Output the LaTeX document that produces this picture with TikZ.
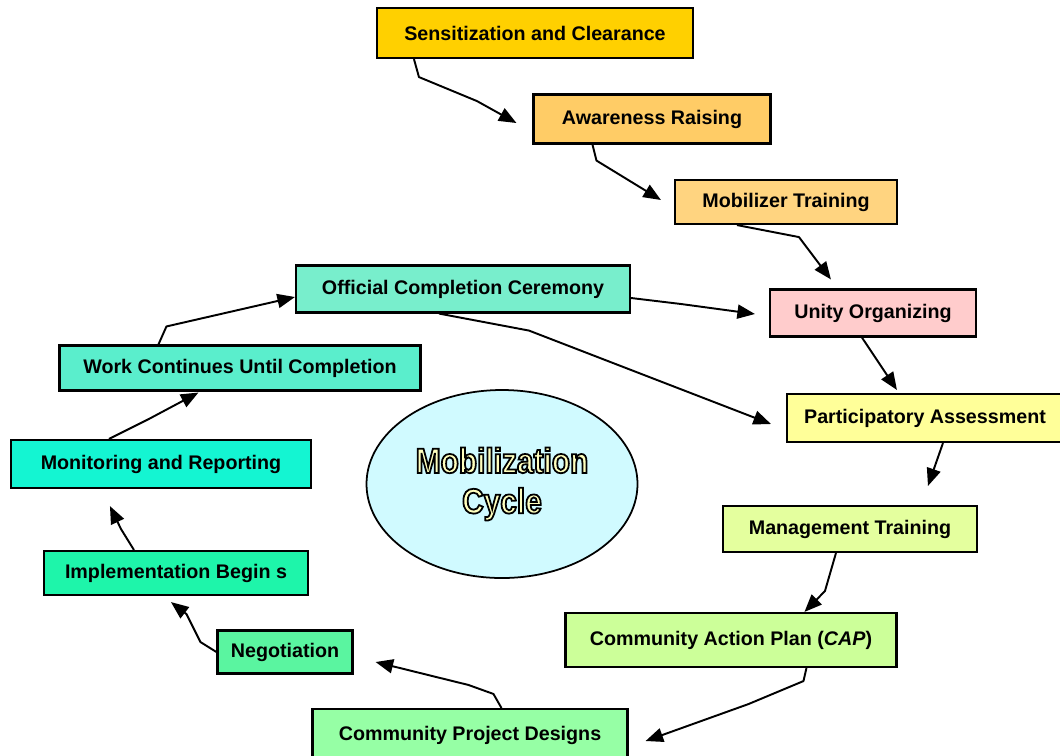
\documentclass[tikz,border=0pt]{standalone}
\usepackage{fontspec}
\setmainfont{Liberation Sans}
\newfontfamily\cyclefont[FakeStretch=0.85,FakeBold=5]{Liberation Sans Bold}
\usetikzlibrary{arrows.meta,calc,shapes.geometric}

\definecolor{sensfill}{RGB}{255,208,0}
\definecolor{awarefill}{RGB}{255,204,102}
\definecolor{mobilfill}{RGB}{255,212,128}
\definecolor{unityfill}{RGB}{255,204,204}
\definecolor{particfill}{RGB}{255,255,153}
\definecolor{managefill}{RGB}{228,255,158}
\definecolor{capfill}{RGB}{204,255,153}
\definecolor{designfill}{RGB}{150,255,165}
\definecolor{negotfill}{RGB}{90,245,160}
\definecolor{implemfill}{RGB}{30,245,170}
\definecolor{monitfill}{RGB}{20,245,210}
\definecolor{workfill}{RGB}{90,238,204}
\definecolor{officfill}{RGB}{120,238,204}
\definecolor{cyclefill}{RGB}{208,250,255}
\definecolor{cycletext}{RGB}{255,255,190}

% outlined title text: yellow fill, black stroke
\newcommand{\outlined}[1]{\textcolor{cycletext}{\special{pdf:code 0 G}#1}}

\tikzset{
	stage/.style={rectangle, draw, line width=1.2pt, inner sep=0pt, font=\bfseries\fontsize{11.2}{13}\selectfont},
	flow/.style={-{Triangle[length=10pt,width=8pt]}, line width=1.1pt, line join=bevel}
}

\begin{document}
\begin{tikzpicture}[x=0.02cm,y=-0.02cm]
	\useasboundingbox (0,0) rectangle (1060,755);

	\node (sens)		at (535,33) [stage, fill=sensfill, minimum width=316*0.02cm, minimum height=50*0.02cm] {Sensitization and Clearance};
	\node (aware)		at (652,119) [stage, fill=awarefill, minimum width=237*0.02cm, minimum height=49*0.02cm] {Awareness Raising};
	\node (mobil)		at (786,202) [stage, fill=mobilfill, minimum width=222*0.02cm, minimum height=44*0.02cm] {Mobilizer Training};
	\node (unity)		at (873,313) [stage, fill=unityfill, minimum width=206*0.02cm, minimum height=47*0.02cm] {Unity Organizing};
	\node (partic)		at (925,418) [stage, fill=particfill, minimum width=276*0.02cm, minimum height=48*0.02cm] {Participatory Assessment};
	\node (manage)		at (850,529) [stage, fill=managefill, minimum width=254*0.02cm, minimum height=46*0.02cm] {Management Training};
	\node (cap)			at (731,640) [stage, fill=capfill, minimum width=331*0.02cm, minimum height=54*0.02cm] {Community Action Plan (\textit{CAP})};
	\node (design)		at (470,735) [stage, fill=designfill, minimum width=315*0.02cm, minimum height=52*0.02cm] {Community Project Designs};

	\node (negot)		at (285,652) [stage, fill=negotfill, minimum width=135*0.02cm, minimum height=43*0.02cm] {Negotiation};
	\node (implem)		at (176,573) [stage, fill=implemfill, minimum width=264*0.02cm, minimum height=44*0.02cm] {Implementation Begin s};
	\node (monit)		at (161,464) [stage, fill=monitfill, minimum width=300*0.02cm, minimum height=48*0.02cm] {Monitoring and Reporting};
	\node (work)		at (240,368) [stage, fill=workfill, minimum width=361*0.02cm, minimum height=45*0.02cm] {Work Continues Until Completion};
	\node (offic)		at (463,289) [stage, fill=officfill, minimum width=334*0.02cm, minimum height=47*0.02cm] {Official Completion Ceremony};

	\node (cycle)		at (502,484) [ellipse, draw, line width=1pt, fill=cyclefill, minimum width=271*0.02cm, minimum height=188*0.02cm, align=center,
		font=\cyclefont\fontsize{20}{23}\selectfont] {\outlined{Mobilization}\\\outlined{Cycle}};

	\draw[flow] ($(sens.south west)+(38,0)$) -- ++(5,18) -- ++(58,24) -- ($(aware.west)+(-16,4)$);
	\draw[flow] ($(aware.south west)+(60,0)$) -- ++(4,16) -- ($(mobil.west)+(-13,-2)$);
	\draw[flow] ($(mobil.south west)+(63,0)$) -- ++(62,12) -- ($(unity.north west)+(62,-9)$);
	\draw[flow] ($(unity.south west)+(93,0)$) -- ($(partic.north west)+(111,-3)$);
	\draw[flow] ($(partic.south west)+(157,0)$) -- ($(manage.north west)+(206,-19)$);
	\draw[flow] ($(manage.south west)+(114,0)$) -- ++(-11,38) -- ($(cap.north west)+(240,0)$);
	\draw[flow] ($(cap.south west)+(242,0)$) -- ++(-3,13) -- ++(-55,23) -- ($(design.east)+(17,6)$);
	\draw[flow] ($(design.north west)+(190,0)$) -- ++(-8,-14) -- ++(-25,-9) -- ($(negot.east)+(22,10)$);
	\draw[flow] (negot.west) -- ++(-16,-10) -- ++(-14,-28) -- ($(implem.south west)+(128,6)$);
	\draw[flow] ($(implem.north west)+(91,0)$) -- ++(-13,-21) -- ($(monit.south west)+(100,17)$);
	\draw[flow] ($(monit.north west)+(99,0)$) -- ++(40,-20) -- ($(work.south west)+(140,1)$);
	\draw[flow] ($(work.north west)+(100,0)$) -- ++(8,-18) -- ($(offic.west)+(0,8)$);
	\draw[flow] ($(offic.east)+(0,9)$) -- ++(50,6) -- ($(unity.west)+(-14,1)$);
	\draw[flow] ($(offic.south west)+(144,0)$) -- ++(90,17) -- ($(partic.west)+(-15,6)$);
\end{tikzpicture}
\end{document}
